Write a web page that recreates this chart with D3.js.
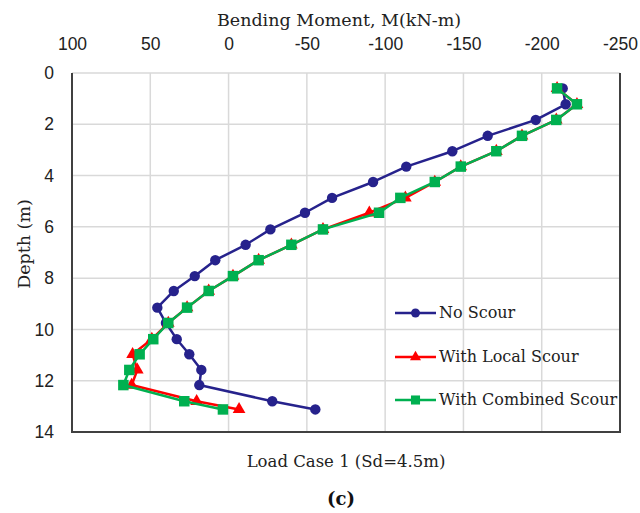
<!DOCTYPE html>
<html>
<head>
<meta charset="utf-8">
<script src="https://cdn.jsdelivr.net/npm/d3@7/dist/d3.min.js"></script>
<style>
  html, body { margin: 0; padding: 0; background: #fff; }
  svg { display: block; }
</style>
</head>
<body>
<svg id="chart" width="640" height="513"></svg>
<script>
// Depth of each output station along the pile (m)
const depths = [0.6, 1.22, 1.83, 2.45, 3.05, 3.65, 4.25, 4.87, 5.45, 6.1, 6.7, 7.3, 7.92, 8.5, 9.15, 9.75, 10.38, 10.97, 11.58, 12.17, 12.8, 13.12];

// Bending moment (kN-m) for each scour condition
const noScour = [-213.4, -215.3, -196.2, -165.5, -142.9, -113.5, -92.3, -66.1, -48.8, -26.7, -10.9, 8.5, 21.6, 35.0, 45.5, 40.0, 33.1, 25.1, 17.4, 18.7, -27.9, -55.4];
const localScour = [-209.8, -222.5, -209.3, -187.4, -171.0, -148.3, -131.7, -112.9, -89.9, -60.3, -40.1, -19.2, -2.8, 12.7, 26.5, 38.5, 49.0, 61.3, 58.3, 61.9, 20.4, -6.7];
const combinedScour = [-209.8, -222.5, -209.3, -187.4, -171.0, -148.3, -131.7, -109.7, -96.1, -60.3, -40.1, -19.2, -2.8, 12.7, 26.5, 38.5, 48.1, 56.8, 63.4, 67.2, 28.3, 3.6];

const seriesNames = ["No Scour", "With Local Scour", "With Combined Scour"];
const xTicks = [100, 50, 0, -50, -100, -150, -200, -250];
const yTicks = [0, 2, 4, 6, 8, 10, 12, 14];

const seriesList = [
  { name: seriesNames[0], values: noScour, color: "#26228c", symbol: d3.symbolCircle, size: 85 },
  { name: seriesNames[1], values: localScour, color: "#ff0000", symbol: d3.symbolTriangle, size: 70 },
  { name: seriesNames[2], values: combinedScour, color: "#00b050", symbol: d3.symbolSquare, size: 110 }
];

const svg = d3.select("#chart");
const plot = { left: 72, right: 620, top: 73, bottom: 432 };

const x = d3.scaleLinear().domain([100, -250]).range([plot.left, plot.right]);
const y = d3.scaleLinear().domain([0, 14]).range([plot.top, plot.bottom]);

svg.append("rect").attr("width", 640).attr("height", 513).attr("fill", "#fff");

// Gridlines
const grid = svg.append("g");
grid.selectAll("line.v").data(xTicks.slice(1, -1)).join("line")
  .attr("x1", d => x(d)).attr("x2", d => x(d))
  .attr("y1", plot.top).attr("y2", plot.bottom)
  .attr("stroke", "#d9d9d9").attr("stroke-width", 1.5);
grid.selectAll("line.h").data(yTicks.slice(0, -1)).join("line")
  .attr("x1", plot.left).attr("x2", plot.right)
  .attr("y1", d => y(d)).attr("y2", d => y(d))
  .attr("stroke", "#d9d9d9").attr("stroke-width", 1.5);

// Frame: left, bottom and right edges
svg.append("path")
  .attr("d", `M${plot.left},${plot.top}V${plot.bottom}H${plot.right}V${plot.top}`)
  .attr("fill", "none").attr("stroke", "#404040").attr("stroke-width", 2);

// Axes (plain hyphen for negative labels)
const tickFont = "'Liberation Sans', Arial, sans-serif";
const plain = d => String(d);
const xAxis = svg.append("g").attr("transform", `translate(0,${plot.top})`)
  .call(d3.axisTop(x).tickValues(xTicks).tickSize(0).tickPadding(23).tickFormat(plain));
const yAxis = svg.append("g").attr("transform", `translate(${plot.left},0)`)
  .call(d3.axisLeft(y).tickValues(yTicks).tickSize(0).tickPadding(18).tickFormat(plain));
[xAxis, yAxis].forEach(a => {
  a.select(".domain").remove();
  a.selectAll("text").attr("font-family", tickFont).attr("font-size", 17.5).attr("fill", "#222");
});

const serif = "'DejaVu Serif', 'Liberation Serif', serif";

// Axis titles
svg.append("text").attr("x", 339).attr("y", 26).attr("text-anchor", "middle")
  .attr("font-family", serif).attr("font-size", 17.5).attr("fill", "#222")
  .text("Bending Moment, M(kN-m)");
svg.append("text").attr("transform", "translate(30,244) rotate(-90)").attr("text-anchor", "middle")
  .attr("font-family", serif).attr("font-size", 17.5).attr("fill", "#222")
  .text("Depth (m)");
svg.append("text").attr("x", 346).attr("y", 467).attr("text-anchor", "middle")
  .attr("font-family", serif).attr("font-size", 16.5).attr("fill", "#222")
  .text("Load Case 1 (Sd=4.5m)");
svg.append("text").attr("x", 341).attr("y", 505).attr("text-anchor", "middle")
  .attr("font-family", serif).attr("font-size", 18).attr("font-weight", "bold").attr("fill", "#111")
  .text("(c)");

// Series
const line = d3.line().x(d => x(d[0])).y(d => y(d[1]));
seriesList.forEach(s => {
  const pts = s.values.map((v, i) => [v, depths[i]]);
  const g = svg.append("g");
  g.append("path").datum(pts).attr("d", line)
    .attr("fill", "none").attr("stroke", s.color).attr("stroke-width", 2.5)
    .attr("stroke-linejoin", "round");
  g.selectAll("path.m").data(pts).join("path")
    .attr("d", d3.symbol().type(s.symbol).size(s.size))
    .attr("transform", d => `translate(${x(d[0])},${y(d[1])})`)
    .attr("fill", s.color);
});

// Legend
const legendRows = [313, 357, 400];
seriesList.forEach((s, i) => {
  const g = svg.append("g").attr("transform", `translate(0,${legendRows[i]})`);
  g.append("line").attr("x1", 395).attr("x2", 436).attr("y1", 0).attr("y2", 0)
    .attr("stroke", s.color).attr("stroke-width", 2.5);
  g.append("path").attr("d", d3.symbol().type(s.symbol).size(s.size * 0.75))
    .attr("transform", "translate(415.5,0)").attr("fill", s.color);
  g.append("text").attr("x", 439).attr("y", 5).attr("font-family", serif)
    .attr("font-size", 16).attr("fill", "#222").text(s.name);
});
</script>
</body>
</html>
